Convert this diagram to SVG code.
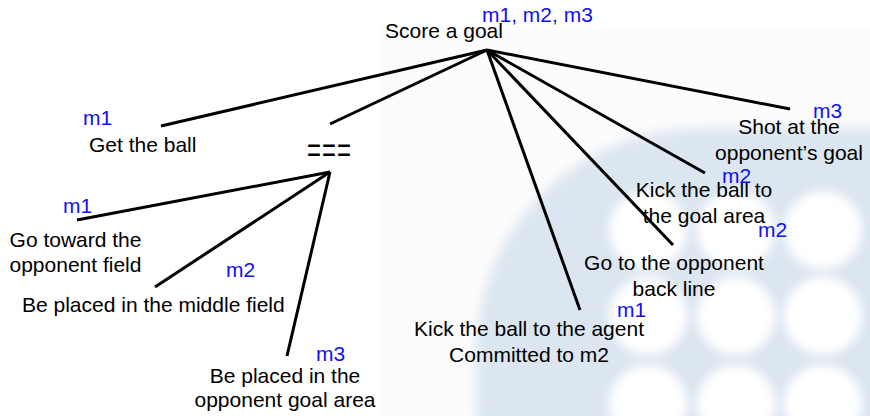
<svg xmlns="http://www.w3.org/2000/svg" width="870" height="416" viewBox="0 0 870 416">
<style>
  .t { font-family: "Liberation Sans", Arial, sans-serif; font-size: 21px; fill: #000; }
  .m { font-family: "Liberation Sans", Arial, sans-serif; font-size: 21px; fill: #1010f0; }
  .c { text-anchor: middle; }
  .ln { stroke: #000; stroke-width: 3; fill: none; stroke-linecap: butt; }
</style>
<defs>
  <filter id="blur" x="-20%" y="-20%" width="140%" height="140%">
    <feGaussianBlur stdDeviation="6"/>
  </filter>
  <filter id="blur2" x="-50%" y="-50%" width="200%" height="200%">
    <feGaussianBlur stdDeviation="5"/>
  </filter>
</defs>
<rect x="0" y="0" width="870" height="416" fill="#ffffff"/>
<g id="background">
  <rect x="380" y="26" width="490" height="390" fill="#fcfcfc"/>
  <rect x="476" y="128" width="700" height="500" rx="225" ry="225" fill="#dce6f0" filter="url(#blur)"/>
  <g fill="#ffffff" filter="url(#blur2)">
    <circle cx="648" cy="230" r="39"/>
    <circle cx="736" cy="230" r="39"/>
    <circle cx="823" cy="230" r="39"/>
    <circle cx="648" cy="316" r="39"/>
    <circle cx="736" cy="316" r="39"/>
    <circle cx="823" cy="316" r="39"/>
    <circle cx="648" cy="404" r="39"/>
    <circle cx="736" cy="404" r="39"/>
    <circle cx="823" cy="404" r="39"/>
  </g>
</g>
<g id="connectors">
  <line class="ln" x1="487" y1="50" x2="161" y2="126"/>
  <line class="ln" x1="487" y1="50" x2="330" y2="124"/>
  <line class="ln" x1="487" y1="50" x2="580" y2="310"/>
  <line class="ln" x1="487" y1="50" x2="673" y2="245"/>
  <line class="ln" x1="487" y1="50" x2="705" y2="173"/>
  <line class="ln" x1="487" y1="50" x2="790" y2="109"/>
  <line class="ln" x1="330" y1="172" x2="77" y2="220"/>
  <line class="ln" x1="330" y1="172" x2="155" y2="287"/>
  <line class="ln" x1="330" y1="172" x2="287" y2="356"/>
</g>
<g id="node-root">
  <text class="t" x="385" y="38">Score a goal</text>
  <text class="m" x="482" y="22">m1, m2, m3</text>
</g>
<g id="node-get-ball">
  <text class="m" x="83" y="125">m1</text>
  <text class="t" x="89" y="152">Get the ball</text>
</g>
<g id="node-and">
  <text class="t" transform="translate(307,162) scale(1,1.5)" x="0" y="0" style="font-size:24px;letter-spacing:1px">===</text>
</g>
<g id="node-go-toward">
  <text class="m" x="63" y="213">m1</text>
  <text class="t c" x="75.5" y="247">Go toward the</text>
  <text class="t c" x="75.5" y="272">opponent field</text>
</g>
<g id="node-middle-field">
  <text class="m" x="226" y="277">m2</text>
  <text class="t" x="22" y="312">Be placed in the middle field</text>
</g>
<g id="node-goal-area">
  <text class="m" x="316" y="361">m3</text>
  <text class="t c" x="285" y="383">Be placed in the</text>
  <text class="t c" x="285" y="407">opponent goal area</text>
</g>
<g id="node-kick-agent">
  <text class="m" x="617" y="317">m1</text>
  <text class="t c" x="529" y="336">Kick the ball to the agent</text>
  <text class="t c" x="529" y="362">Committed to m2</text>
</g>
<g id="node-back-line">
  <text class="m" x="758" y="237">m2</text>
  <text class="t c" x="674" y="270">Go to the opponent</text>
  <text class="t c" x="674" y="296">back line</text>
</g>
<g id="node-kick-goal-area">
  <text class="t c" x="704" y="197">Kick the ball to</text>
  <text class="t c" x="704" y="223">the goal area</text>
  <text class="m" x="722" y="183">m2</text>
</g>
<g id="node-shot">
  <text class="t c" x="789" y="134">Shot at the</text>
  <text class="t c" x="789" y="160">opponent’s goal</text>
  <text class="m" x="813" y="118">m3</text>
</g>
</svg>
